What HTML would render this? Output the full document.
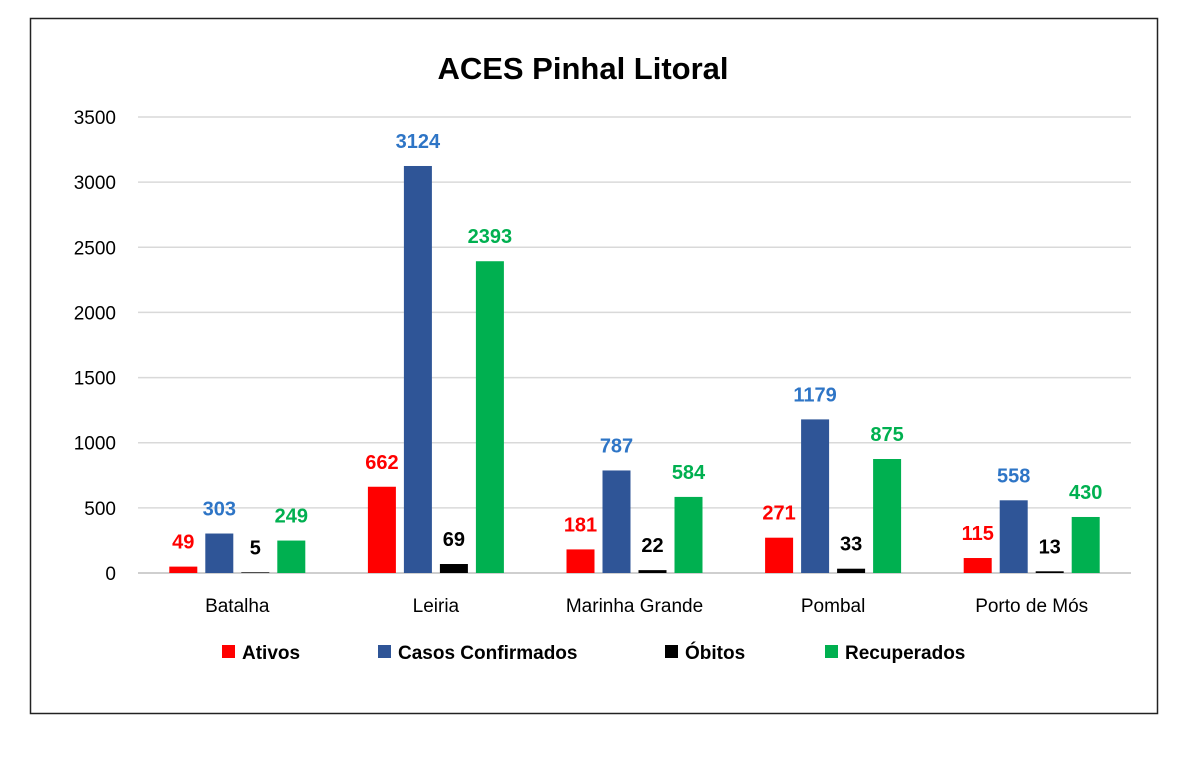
<!DOCTYPE html>
<html><head><meta charset="utf-8"><style>
body{margin:0;background:#fff;font-family:"Liberation Sans",sans-serif}
svg text{font-family:"Liberation Sans",sans-serif}
</style></head><body>
<svg id="c" width="1200" height="758" xmlns="http://www.w3.org/2000/svg">
<rect x="30.5" y="18.5" width="1127" height="695" fill="#fff" stroke="#222" stroke-width="1.5"/>
<text x="583" y="79" text-anchor="middle" font-size="31" font-weight="bold" fill="#000">ACES Pinhal Litoral</text>
<g id="grid"></g><g id="bars"></g>
<g font-size="19" font-weight="bold" fill="#000">
<rect x="222" y="645" width="13" height="13" fill="#FF0000"/><text x="242" y="659">Ativos</text>
<rect x="378" y="645" width="13" height="13" fill="#2F5597"/><text x="398" y="659">Casos Confirmados</text>
<rect x="665" y="645" width="13" height="13" fill="#000"/><text x="685" y="659">Óbitos</text>
<rect x="825" y="645" width="13" height="13" fill="#00B050"/><text x="845" y="659">Recuperados</text>
</g>
</svg>
<script>
const categories=["Batalha","Leiria","Marinha Grande","Pombal","Porto de Mós"];
const ativos=[49,662,181,271,115];
const casos=[303,3124,787,1179,558];
const obitos=[5,69,22,33,13];
const recuperados=[249,2393,584,875,430];
const yTicks=[0,500,1000,1500,2000,2500,3000,3500];
const NS="http://www.w3.org/2000/svg";
const x0=138,x1=1131,yBase=573,yTop=117,yMax=3500;
const y=v=>yBase-(v/yMax)*(yBase-yTop);
const band=(x1-x0)/categories.length;
const cx=i=>x0+band*(i+0.5);
function mk(t,a,p){const e=document.createElementNS(NS,t);for(const k in a)e.setAttribute(k,a[k]);p.appendChild(e);return e;}
const grid=document.getElementById('grid'),bars=document.getElementById('bars');
yTicks.forEach(t=>{
 const l=mk('line',{x1:x0,x2:x1,y1:y(t),y2:y(t),stroke:t===0?'#bfbfbf':'#d9d9d9','stroke-width':1.5},grid);
 
 
 const tx=mk('text',{x:116,y:y(t)+7,'text-anchor':'end','font-size':19,fill:'#000'},grid);
 tx.textContent=t;
 
 
});
const series=[[ativos,'#FF0000','#FF0000','ativos'],[casos,'#2F5597','#2E75C6','casos'],[obitos,'#000','#000','obitos'],[recuperados,'#00B050','#00B050','recuperados']];
const bw=28,gap=8;
categories.forEach((c,i)=>{
 const start=cx(i)-(4*bw+3*gap)/2;
 series.forEach((s,j)=>{
  const v=s[0][i],bx=start+j*(bw+gap);
  const r=mk('rect',{x:bx,y:y(v),width:bw,height:yBase-y(v),fill:s[1]},bars);
  
  
  const t=mk('text',{x:bx+bw/2,y:y(v)-18,'text-anchor':'middle','font-size':20,'font-weight':'bold',fill:s[2]},bars);
  t.textContent=v;
  
  
 });
 const t=mk('text',{x:cx(i),y:612,'text-anchor':'middle','font-size':19,fill:'#000'},bars);
 t.textContent=c;
 
 
});
</script>
</body></html>
